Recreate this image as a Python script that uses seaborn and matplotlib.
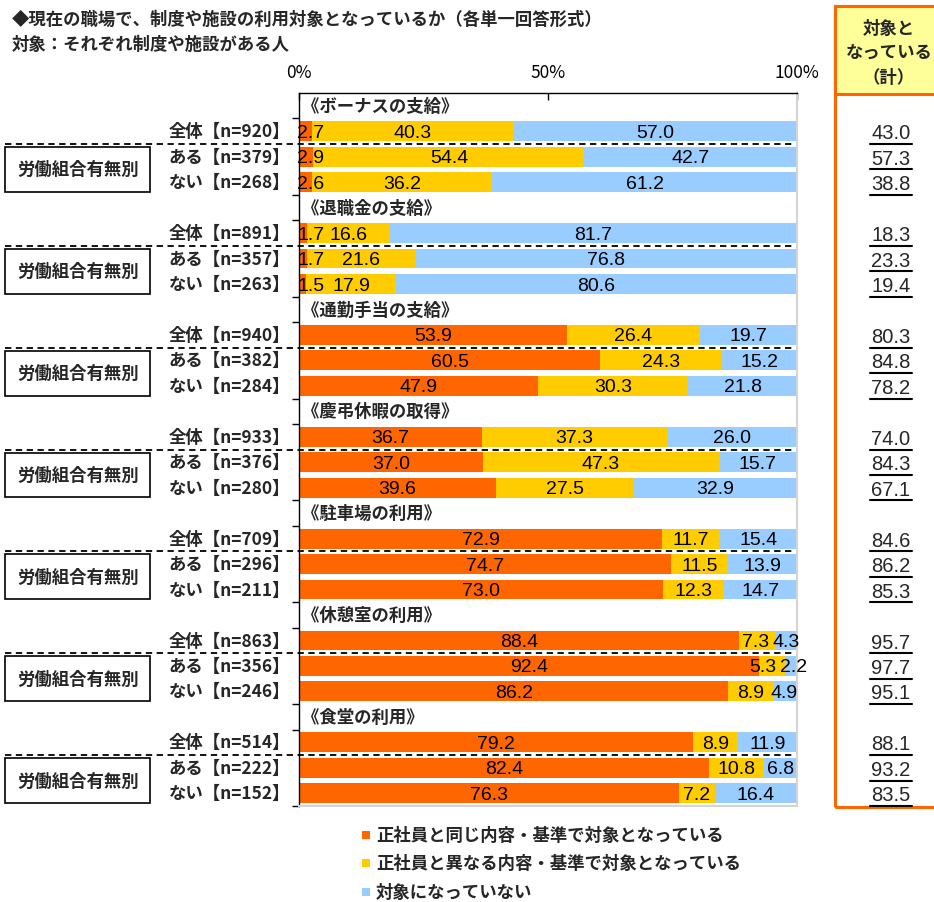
import matplotlib
matplotlib.use("Agg")
import pandas as pd
import matplotlib.pyplot as plt
import matplotlib.transforms as mtransforms
from matplotlib.patches import Rectangle
import seaborn as sns

# ------------------------------------------------------------
# dati
# ------------------------------------------------------------
title_lines = ["◆現在の職場で、制度や施設の利用対象となっているか（各単一回答形式）",
               "対象：それぞれ制度や施設がある人"]
sections = ["《ボーナスの支給》", "《退職金の支給》", "《通勤手当の支給》", "《慶弔休暇の取得》",
            "《駐車場の利用》", "《休憩室の利用》", "《食堂の利用》"]
groups = ["全体", "ある", "ない"]
group_box_label = "労働組合有無別"
n_counts = [920, 379, 268, 891, 357, 263, 940, 382, 284, 933, 376, 280,
            709, 296, 211, 863, 356, 246, 514, 222, 152]
same_terms = [2.7, 2.9, 2.6, 1.7, 1.7, 1.5, 53.9, 60.5, 47.9, 36.7, 37.0, 39.6,
              72.9, 74.7, 73.0, 88.4, 92.4, 86.2, 79.2, 82.4, 76.3]
diff_terms = [40.3, 54.4, 36.2, 16.6, 21.6, 17.9, 26.4, 24.3, 30.3, 37.3, 47.3, 27.5,
              11.7, 11.5, 12.3, 7.3, 5.3, 8.9, 8.9, 10.8, 7.2]
not_covered = [57.0, 42.7, 61.2, 81.7, 76.8, 80.6, 19.7, 15.2, 21.8, 26.0, 15.7, 32.9,
               15.4, 13.9, 14.7, 4.3, 2.2, 4.9, 11.9, 6.8, 16.4]
covered_total = [43.0, 57.3, 38.8, 18.3, 23.3, 19.4, 80.3, 84.8, 78.2, 74.0, 84.3, 67.1,
                 84.6, 86.2, 85.3, 95.7, 97.7, 95.1, 88.1, 93.2, 83.5]
total_header = ["対象と", "なっている", "（計）"]
legend_labels = ["正社員と同じ内容・基準で対象となっている",
                 "正社員と異なる内容・基準で対象となっている",
                 "対象になっていない"]
x_ticks = [0, 50, 100]
x_tick_labels = ["0%", "50%", "100%"]

COLORS = ["#FF6600", "#FFCC00", "#99CCFF"]
ORANGE_BOX = "#FF6600"

# tabella: ogni sezione occupa 4 righe (titolo + 3 barre)
rows = []
for i in range(len(same_terms)):
    s, g = divmod(i, 3)
    rows.append({
        "pos": 4 * s + 1 + g,
        "label": f"{groups[g]}【n={n_counts[i]}】",
        "same": same_terms[i],
        "diff": diff_terms[i],
        "not": not_covered[i],
        "total": covered_total[i],
    })
df = pd.DataFrame(rows)
df["c1"] = df["same"]
df["c2"] = df["same"] + df["diff"]
df["c3"] = df["c2"] + df["not"]

# ------------------------------------------------------------
# figura
# ------------------------------------------------------------
sns.set_style("white")
plt.rcParams["font.family"] = ["Noto Sans CJK JP", "DejaVu Sans"]
FS = 12.5
NUM_FONT = ["Liberation Sans", "DejaVu Sans"]

W, H = 934, 903
fig = plt.figure(figsize=(W / 100, H / 100), dpi=100)
ax = fig.add_axes([299 / W, 1 - 807 / H, 498 / W, 713 / H])

# barre impilate: si disegnano i cumulati dal piu lungo al piu corto
for col, color in zip(["c3", "c2", "c1"], COLORS[::-1]):
    sns.barplot(data=df, x=col, y="pos", orient="h", native_scale=True,
                color=color, saturation=1, width=0.78, linewidth=0,
                errorbar=None, ax=ax)

n_rows = 4 * len(sections)
ax.set_xlim(0, 100)
ax.set_ylim(n_rows - 0.5, -0.5)
ax.set_xlabel("")
ax.set_ylabel("")

# asse x in alto
ax.xaxis.tick_top()
ax.set_xticks(x_ticks)
ax.set_xticklabels(x_tick_labels, fontsize=FS)
ax.tick_params(axis="x", direction="in", length=5, width=1, pad=9, colors="black")

# tacche a sinistra ai bordi dei gruppi
edges = []
for s in range(len(sections)):
    edges += [4 * s + 0.5, 4 * s + 3.5]
ax.set_yticks(edges)
ax.set_yticklabels([""] * len(edges))
ax.tick_params(axis="y", direction="out", length=5, width=1, colors="black", left=True)

for side in ["top", "left"]:
    ax.spines[side].set_color("black")
    ax.spines[side].set_linewidth(1)
for side in ["right", "bottom"]:
    ax.spines[side].set_color("#D4D4D4")
    ax.spines[side].set_linewidth(1.5)

yax = ax.get_yaxis_transform()

# etichette dei valori dentro le barre
for _, r in df.iterrows():
    vals = [r["same"], r["diff"], r["not"]]
    lefts = [0, r["c1"], r["c2"]]
    mids = [min(max(l + v / 2, 2.4), 97.4) for l, v in zip(lefts, vals)]
    for k in range(1, 3):
        if mids[k] - mids[k - 1] < 6:
            c = (mids[k] + mids[k - 1]) / 2
            mids[k - 1], mids[k] = c - 3, c + 3
    for v, m in zip(vals, mids):
        ax.text(m, r["pos"] + 0.04, f"{v:.1f}", ha="center", va="center",
                fontsize=14, family=NUM_FONT, color="black")

# etichette a sinistra, titoli di sezione, linee tratteggiate e riquadri
for _, r in df.iterrows():
    ax.text(-0.018, r["pos"], r["label"], transform=yax, ha="right", va="center",
            fontsize=FS, fontweight="bold")

for s, name in enumerate(sections):
    base = 4 * s
    ax.text(0.6, base, name, ha="left", va="center", fontsize=FS, fontweight="bold")
    ax.plot([-0.59, 0.995], [base + 1.5, base + 1.5], transform=yax, color="black",
            lw=1.3, ls=(0, (3.5, 2.5)), clip_on=False)
    ax.add_patch(Rectangle((-0.59, base + 1.62), 0.291, 1.76, transform=yax,
                           facecolor="white", edgecolor="black", lw=1.2, clip_on=False))
    ax.text(-0.59 + 0.291 / 2, base + 2.5, group_box_label, transform=yax,
            ha="center", va="center", fontsize=FS, fontweight="bold")

# colonna "対象となっている（計）"
fig.patches.append(Rectangle((835 / W, 1 - 808 / H), 0.2, (808 - 7) / H,
                             transform=fig.transFigure, facecolor="none",
                             edgecolor=ORANGE_BOX, lw=2.2, zorder=-1))
fig.patches.append(Rectangle((835 / W, 1 - 95 / H), 0.2, (95 - 7) / H,
                             transform=fig.transFigure, facecolor="#FFFF99",
                             edgecolor=ORANGE_BOX, lw=2.2, zorder=-1))
for line, yp in zip(total_header, [29, 54, 78]):
    fig.text(889 / W, 1 - yp / H, line, ha="center", va="center",
             fontsize=FS, fontweight="bold")

col_tr = mtransforms.blended_transform_factory(fig.transFigure, ax.transData)
for _, r in df.iterrows():
    ax.text(891 / W, r["pos"] + 0.06, f"{r['total']:.1f}", transform=col_tr,
            ha="center", va="center", fontsize=14.5, family=NUM_FONT,
            clip_on=False)
    ax.plot([870 / W, 912 / W], [r["pos"] + 0.5, r["pos"] + 0.5], transform=col_tr,
            color="black", lw=1.5, clip_on=False)

# titolo
for line, yp in zip(title_lines, [20, 45]):
    fig.text(12 / W, 1 - yp / H, line, ha="left", va="center",
             fontsize=FS, fontweight="bold")

# legenda
for lab, color, yp in zip(legend_labels, COLORS, [836, 864, 893]):
    fig.patches.append(Rectangle((362 / W, 1 - (yp + 4) / H), 8 / W, 8 / H,
                                 transform=fig.transFigure, facecolor=color,
                                 edgecolor="none"))
    fig.text(376 / W, 1 - yp / H, lab, ha="left", va="center",
             fontsize=FS, fontweight="bold")

fig.savefig("out.png", dpi=100)
